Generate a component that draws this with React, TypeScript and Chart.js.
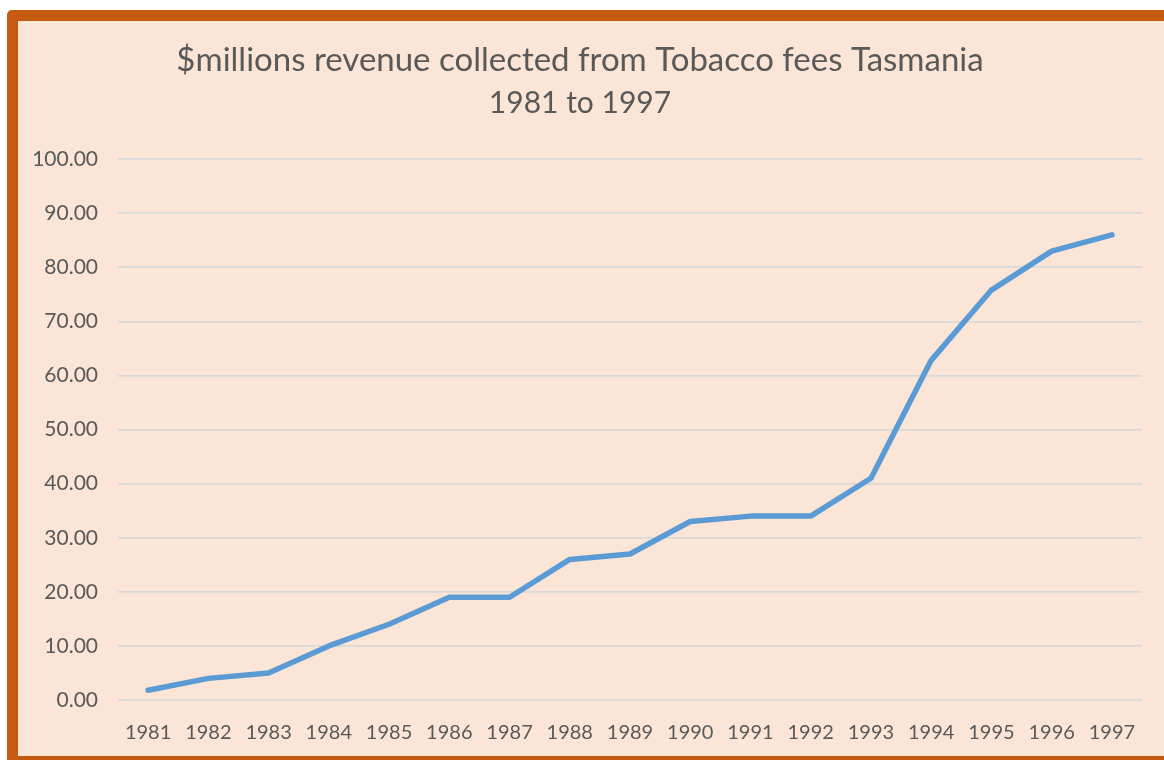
import React, { useEffect, useRef } from "react";
import { Chart, registerables } from "chart.js";

Chart.register(...registerables);

const titleText = "$millions revenue collected from Tobacco fees Tasmania";
const subtitleText = "1981 to 1997";
const years = ["1981", "1982", "1983", "1984", "1985", "1986", "1987", "1988", "1989", "1990", "1991", "1992", "1993", "1994", "1995", "1996", "1997"];
const revenue = [1.8, 4, 5, 10, 14, 19, 19, 26, 27, 33, 34, 34, 41, 62.8, 75.8, 83, 86];
const yMin = 0;
const yMax = 100;
const yStep = 10;

const TEXT = "#595959";
const FONT = "Lato, 'Open Sans', sans-serif";

export default function App() {
  const ref = useRef<HTMLCanvasElement | null>(null);

  useEffect(() => {
    const prevMargin = document.body.style.margin;
    document.body.style.margin = "0";
    if (!ref.current) return;
    const chart = new Chart(ref.current, {
      type: "line",
      data: {
        labels: years,
        datasets: [
          {
            label: "Revenue",
            data: revenue,
            borderColor: "#5B9BD5",
            backgroundColor: "#5B9BD5",
            borderWidth: 5.5,
            pointRadius: 0,
            pointHoverRadius: 0,
            tension: 0,
            borderJoinStyle: "round",
            borderCapStyle: "round",
          },
        ],
      },
      options: {
        animation: false,
        responsive: false,
        maintainAspectRatio: false,
        layout: { padding: { left: 0, right: 22, top: 0, bottom: 0 } },
        plugins: {
          legend: { display: false },
          tooltip: { enabled: false },
          title: {
            display: true,
            text: titleText,
            color: TEXT,
            font: { family: FONT, size: 33, weight: "normal", lineHeight: 1.43 },
            padding: { top: 16, bottom: 0 },
          },
          subtitle: {
            display: true,
            text: subtitleText,
            color: TEXT,
            font: { family: FONT, size: 30, weight: "normal", lineHeight: 1.2 },
            padding: { top: 1, bottom: 38 },
          },
        },
        scales: {
          x: {
            offset: true,
            grid: { display: false, drawTicks: false },
            border: { display: false },
            ticks: {
              color: TEXT,
              font: { family: FONT, size: 20 },
              padding: 21,
              maxRotation: 0,
              autoSkip: false,
            },
            afterFit: (s: any) => {
              s.height = 56;
            },
          },
          y: {
            min: yMin,
            max: yMax,
            grid: { color: "#D9D9D9", lineWidth: 1.8, drawTicks: false },
            border: { display: false },
            ticks: {
              stepSize: yStep,
              color: TEXT,
              font: { family: FONT, size: 21 },
              padding: 20,
              callback: (v: any) => Number(v).toFixed(2),
            },
            afterFit: (s: any) => {
              s.width = 100;
            },
          },
        },
      },
    });
    return () => {
      chart.destroy();
      document.body.style.margin = prevMargin;
    };
  }, []);

  return (
    <div style={{ position: "fixed", left: 0, top: 0, width: 1164, height: 760, background: "#FFFFFF", overflow: "hidden" }}>
      <div
        style={{
          position: "absolute",
          left: 7,
          top: 10,
          width: 1180,
          height: 760,
          boxSizing: "border-box",
          border: "11px solid #C55A11",
          borderTopLeftRadius: 5,
          background: "#FBE5D6",
        }}
      />
      <div style={{ position: "absolute", left: 7, top: 746, width: 1164, height: 14, background: "#C55A11" }} />
      <div style={{ position: "absolute", left: 18, top: 21, width: 1146, height: 735, background: "#FBE5D6" }}>
        <canvas ref={ref} width={1146} height={735} style={{ display: "block", width: 1146, height: 735 }} />
      </div>
    </div>
  );
}
